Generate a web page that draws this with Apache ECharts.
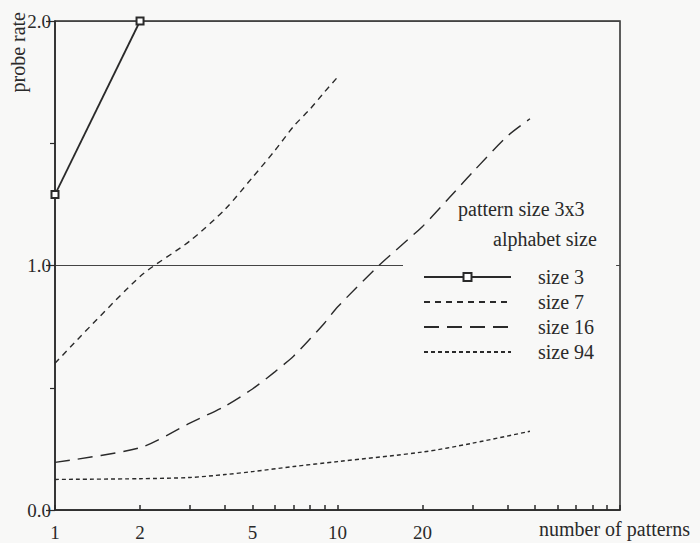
<!DOCTYPE html>
<html>
<head>
<meta charset="utf-8">
<script src="https://cdn.jsdelivr.net/npm/echarts@6/dist/echarts.min.js"></script>
<style>
html,body{margin:0;padding:0;background:#f8f8f7;}
#c{width:700px;height:543px;}
</style>
</head>
<body>
<div id="c"></div>
<script>
// ---- data ----
const size3N = [1, 2];
const size3V = [1.29, 2.0];
const size7N = [1, 2, 3, 4, 5, 6, 7, 8, 9, 10];
const size7V = [0.60, 0.955, 1.10, 1.23, 1.36, 1.47, 1.57, 1.64, 1.71, 1.77];
const size16N = [1, 2, 3, 4, 5, 6, 7, 8, 9, 10, 14, 20, 25, 30, 40, 48];
const size16V = [0.195, 0.255, 0.355, 0.425, 0.495, 0.565, 0.63, 0.70, 0.765, 0.83, 1.0, 1.16, 1.28, 1.38, 1.53, 1.6];
const size94N = [1, 2, 3, 4, 5, 7, 10, 20, 30, 48];
const size94V = [0.125, 0.128, 0.133, 0.145, 0.157, 0.178, 0.198, 0.237, 0.273, 0.322];
const xTickValues = [1,2,3,4,5,6,7,8,9,10,20,30,40,50,60,70,80,90,100];
const xLabelValues = [1, 2, 5, 10, 20];
const seriesNames = ['size 3', 'size 7', 'size 16', 'size 94'];

const pair = (xs, ys) => xs.map((x, i) => [x, ys[i]]);
const FONT = "'Liberation Serif', 'Times New Roman', Times, serif";
const INK = '#2a2a2a';
const BG = '#f8f8f7';

const chart = echarts.init(document.getElementById('c'), null, {renderer: 'svg'});
chart.setOption({
  backgroundColor: BG,
  animation: false,
  textStyle: {fontFamily: FONT, color: INK},
  grid: {left: 55, right: 80, top: 21, bottom: 33, show: true, borderColor: INK, borderWidth: 1.5, backgroundColor: 'transparent'},
  xAxis: {
    type: 'log', logBase: 10, min: 1, max: 100,
    axisLine: {lineStyle: {color: INK, width: 1.5}},
    axisTick: {inside: true, length: 5, customValues: xTickValues, lineStyle: {color: INK, width: 1.5}},
    minorTick: {show: false},
    axisLabel: {customValues: xLabelValues, margin: 13, fontSize: 19, fontFamily: FONT, color: INK},
    splitLine: {show: false}
  },
  yAxis: {
    type: 'value', min: 0, max: 2, interval: 1,
    axisLine: {lineStyle: {color: INK, width: 1.5}},
    axisTick: {inside: false, length: 9, lineStyle: {color: INK, width: 1.2}},
    minorTick: {show: true, splitNumber: 2, length: 5, lineStyle: {color: INK, width: 1.2}},
    axisLabel: {formatter: v => v.toFixed(1), margin: 4, fontSize: 19, fontFamily: FONT, color: INK},
    splitLine: {show: true, lineStyle: {color: '#444', width: 1}}
  },
  legend: {
    data: [
      {name: seriesNames[0]},
      {name: seriesNames[1], itemStyle: {opacity: 0}},
      {name: seriesNames[2], itemStyle: {opacity: 0}},
      {name: seriesNames[3], itemStyle: {opacity: 0}}
    ],
    orient: 'vertical',
    left: 403, top: 256,
    padding: [11, 22, 8, 20],
    itemWidth: 87, itemHeight: 10, itemGap: 5,
    backgroundColor: BG,
    textStyle: {fontFamily: FONT, fontSize: 20, color: INK, padding: [0, 0, 0, 22]},
    selectedMode: false
  },
  graphic: [
    {type: 'text', left: 458, top: 199, style: {text: 'pattern size 3x3', fontFamily: FONT, fontSize: 20, fill: INK}},
    {type: 'text', left: 493, top: 229, style: {text: 'alphabet size', fontFamily: FONT, fontSize: 20, fill: INK}},
    {type: 'text', left: 8, top: 12, rotation: Math.PI / 2, style: {text: 'probe rate', fontFamily: FONT, fontSize: 20, fill: INK}},
    {type: 'text', left: 539, top: 519, style: {text: 'number of patterns', fontFamily: FONT, fontSize: 20, fill: INK}}
  ],
  series: [
    {name: seriesNames[0], type: 'line', data: pair(size3N, size3V), symbol: 'emptyRect', symbolSize: 7,
     itemStyle: {color: INK, borderWidth: 1.2}, lineStyle: {color: INK, width: 1.8, type: 'solid'}},
    {name: seriesNames[1], type: 'line', data: pair(size7N, size7V), symbol: 'none', smooth: 0.25,
     itemStyle: {color: INK}, lineStyle: {color: INK, width: 1.4, type: [6, 5]}},
    {name: seriesNames[2], type: 'line', data: pair(size16N, size16V), symbol: 'none', smooth: 0.25,
     itemStyle: {color: INK}, lineStyle: {color: INK, width: 1.4, type: [15, 8]}},
    {name: seriesNames[3], type: 'line', data: pair(size94N, size94V), symbol: 'none', smooth: 0.3,
     itemStyle: {color: INK}, lineStyle: {color: INK, width: 1.4, type: [4, 3]}}
  ]
});
</script>
</body>
</html>
